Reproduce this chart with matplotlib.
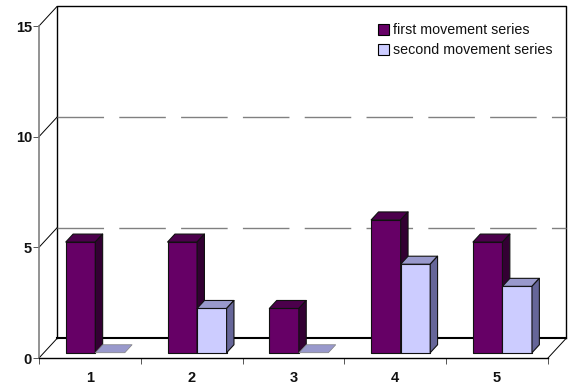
import matplotlib
matplotlib.use("Agg")
import matplotlib.pyplot as plt
from matplotlib.patches import Patch, Polygon

categories = [1, 2, 3, 4, 5]
first_series = [5, 5, 2, 6, 5]
second_series = [0, 2, 0, 4, 3]
y_ticks = [0, 5, 10, 15]

# colours per series: front, top, side
first_colors = ("#660066", "#4c004c", "#330033")
second_colors = ("#ccccff", "#9999cc", "#666699")

plt.rcParams["font.family"] = ["Liberation Sans", "DejaVu Sans"]

fig = plt.figure(figsize=(5.72, 3.85), dpi=100)
# axes is the front plane of the fake 3d box
ax = fig.add_axes([39 / 572, 27 / 385, 509 / 572, 332 / 385])
ax.set_xlim(0.5, 5.5)
ax.set_ylim(0, 15)

# depth vector of the box in data units
DX = 18 / 101.8
DY = 19.5 / 22.13
BAR_W = 0.29
GAP = 0.215
D0 = 0.27
D1 = 0.68


def proj(x, v, d):
    return (x + d * DX, v + d * DY)


# back wall and floor
x0, x1 = ax.get_xlim()
ax.plot(*zip(proj(x0, 0, 1), proj(x0, 15, 1), proj(x1, 15, 1), proj(x1, 0, 1)),
        color="black", lw=1.0, clip_on=False, zorder=1)
ax.plot(*zip(proj(x0, 0, 1), proj(x1, 0, 1)), color="black", lw=1.5, clip_on=False, zorder=1)
ax.plot(*zip(proj(x1, 0, 0), proj(x1, 0, 1)), color="black", lw=0.7, clip_on=False, zorder=1)
for t in y_ticks:
    ax.plot(*zip(proj(x0, t, 0), proj(x0, t, 1)), color="black", lw=0.7, clip_on=False, zorder=1)
    if t in (5, 10):
        ax.plot(*zip(proj(x0, t, 1), proj(x1, t, 1)), color="#808080", lw=1.0,
                dashes=(33.5, 11), dash_capstyle="butt", clip_on=False, zorder=1)


def draw_bar(left, value, colors, z):
    right = left + BAR_W
    front, top, side = colors
    if value == 0:
        pts = [proj(left, 0, D0), proj(right, 0, D0), proj(right, 0, D1), proj(left, 0, D1)]
        ax.add_patch(Polygon(pts, fc=top, ec="#808080", lw=0.5, zorder=z, clip_on=False))
        return
    faces = [
        ([proj(left, 0, D0), proj(right, 0, D0), proj(right, value, D0), proj(left, value, D0)], front),
        ([proj(left, value, D0), proj(right, value, D0), proj(right, value, D1), proj(left, value, D1)], top),
        ([proj(right, 0, D0), proj(right, 0, D1), proj(right, value, D1), proj(right, value, D0)], side),
    ]
    for pts, color in faces:
        ax.add_patch(Polygon(pts, fc=color, ec="#111111", lw=0.8, joinstyle="round", zorder=z, clip_on=False))


for i, cat in enumerate(categories):
    left = cat - 0.5 + GAP
    draw_bar(left, first_series[i], first_colors, 3)
    draw_bar(left + BAR_W, second_series[i], second_colors, 4)

# axes lines and ticks
for name in ("top", "right"):
    ax.spines[name].set_visible(False)
ax.spines["left"].set_color("#808080")
ax.spines["left"].set_linewidth(1.2)
ax.spines["bottom"].set_color("black")
ax.spines["bottom"].set_linewidth(1.0)

ax.set_yticks(y_ticks)
ax.set_yticklabels([str(t) for t in y_ticks], fontsize=10.5, fontweight="bold", color="#111111")
ax.tick_params(axis="y", length=4, width=0.7, color="#555555", pad=1)
ax.set_xticks([0.5, 1.5, 2.5, 3.5, 4.5, 5.5])
ax.tick_params(axis="x", which="major", length=4.5, width=0.7, color="#555555", labelbottom=False)
ax.set_xticks(categories, minor=True)
ax.set_xticklabels([str(c) for c in categories], minor=True, fontsize=10.5, fontweight="bold", color="#111111")
ax.tick_params(axis="x", which="minor", length=0, pad=9)

handles = [
    Patch(fc=first_colors[0], ec="black", lw=0.8, label="first movement series"),
    Patch(fc=second_colors[0], ec="black", lw=0.8, label="second movement series"),
]
ax.legend(handles=handles, loc="upper left", bbox_to_anchor=(339 / 509, 1.009), frameon=False,
          fontsize=10.3, handlelength=0.8, handleheight=0.8, handletextpad=0.22,
          labelspacing=0.44, borderpad=0, borderaxespad=0, labelcolor="#111111")

fig.savefig("out.png", dpi=100)
